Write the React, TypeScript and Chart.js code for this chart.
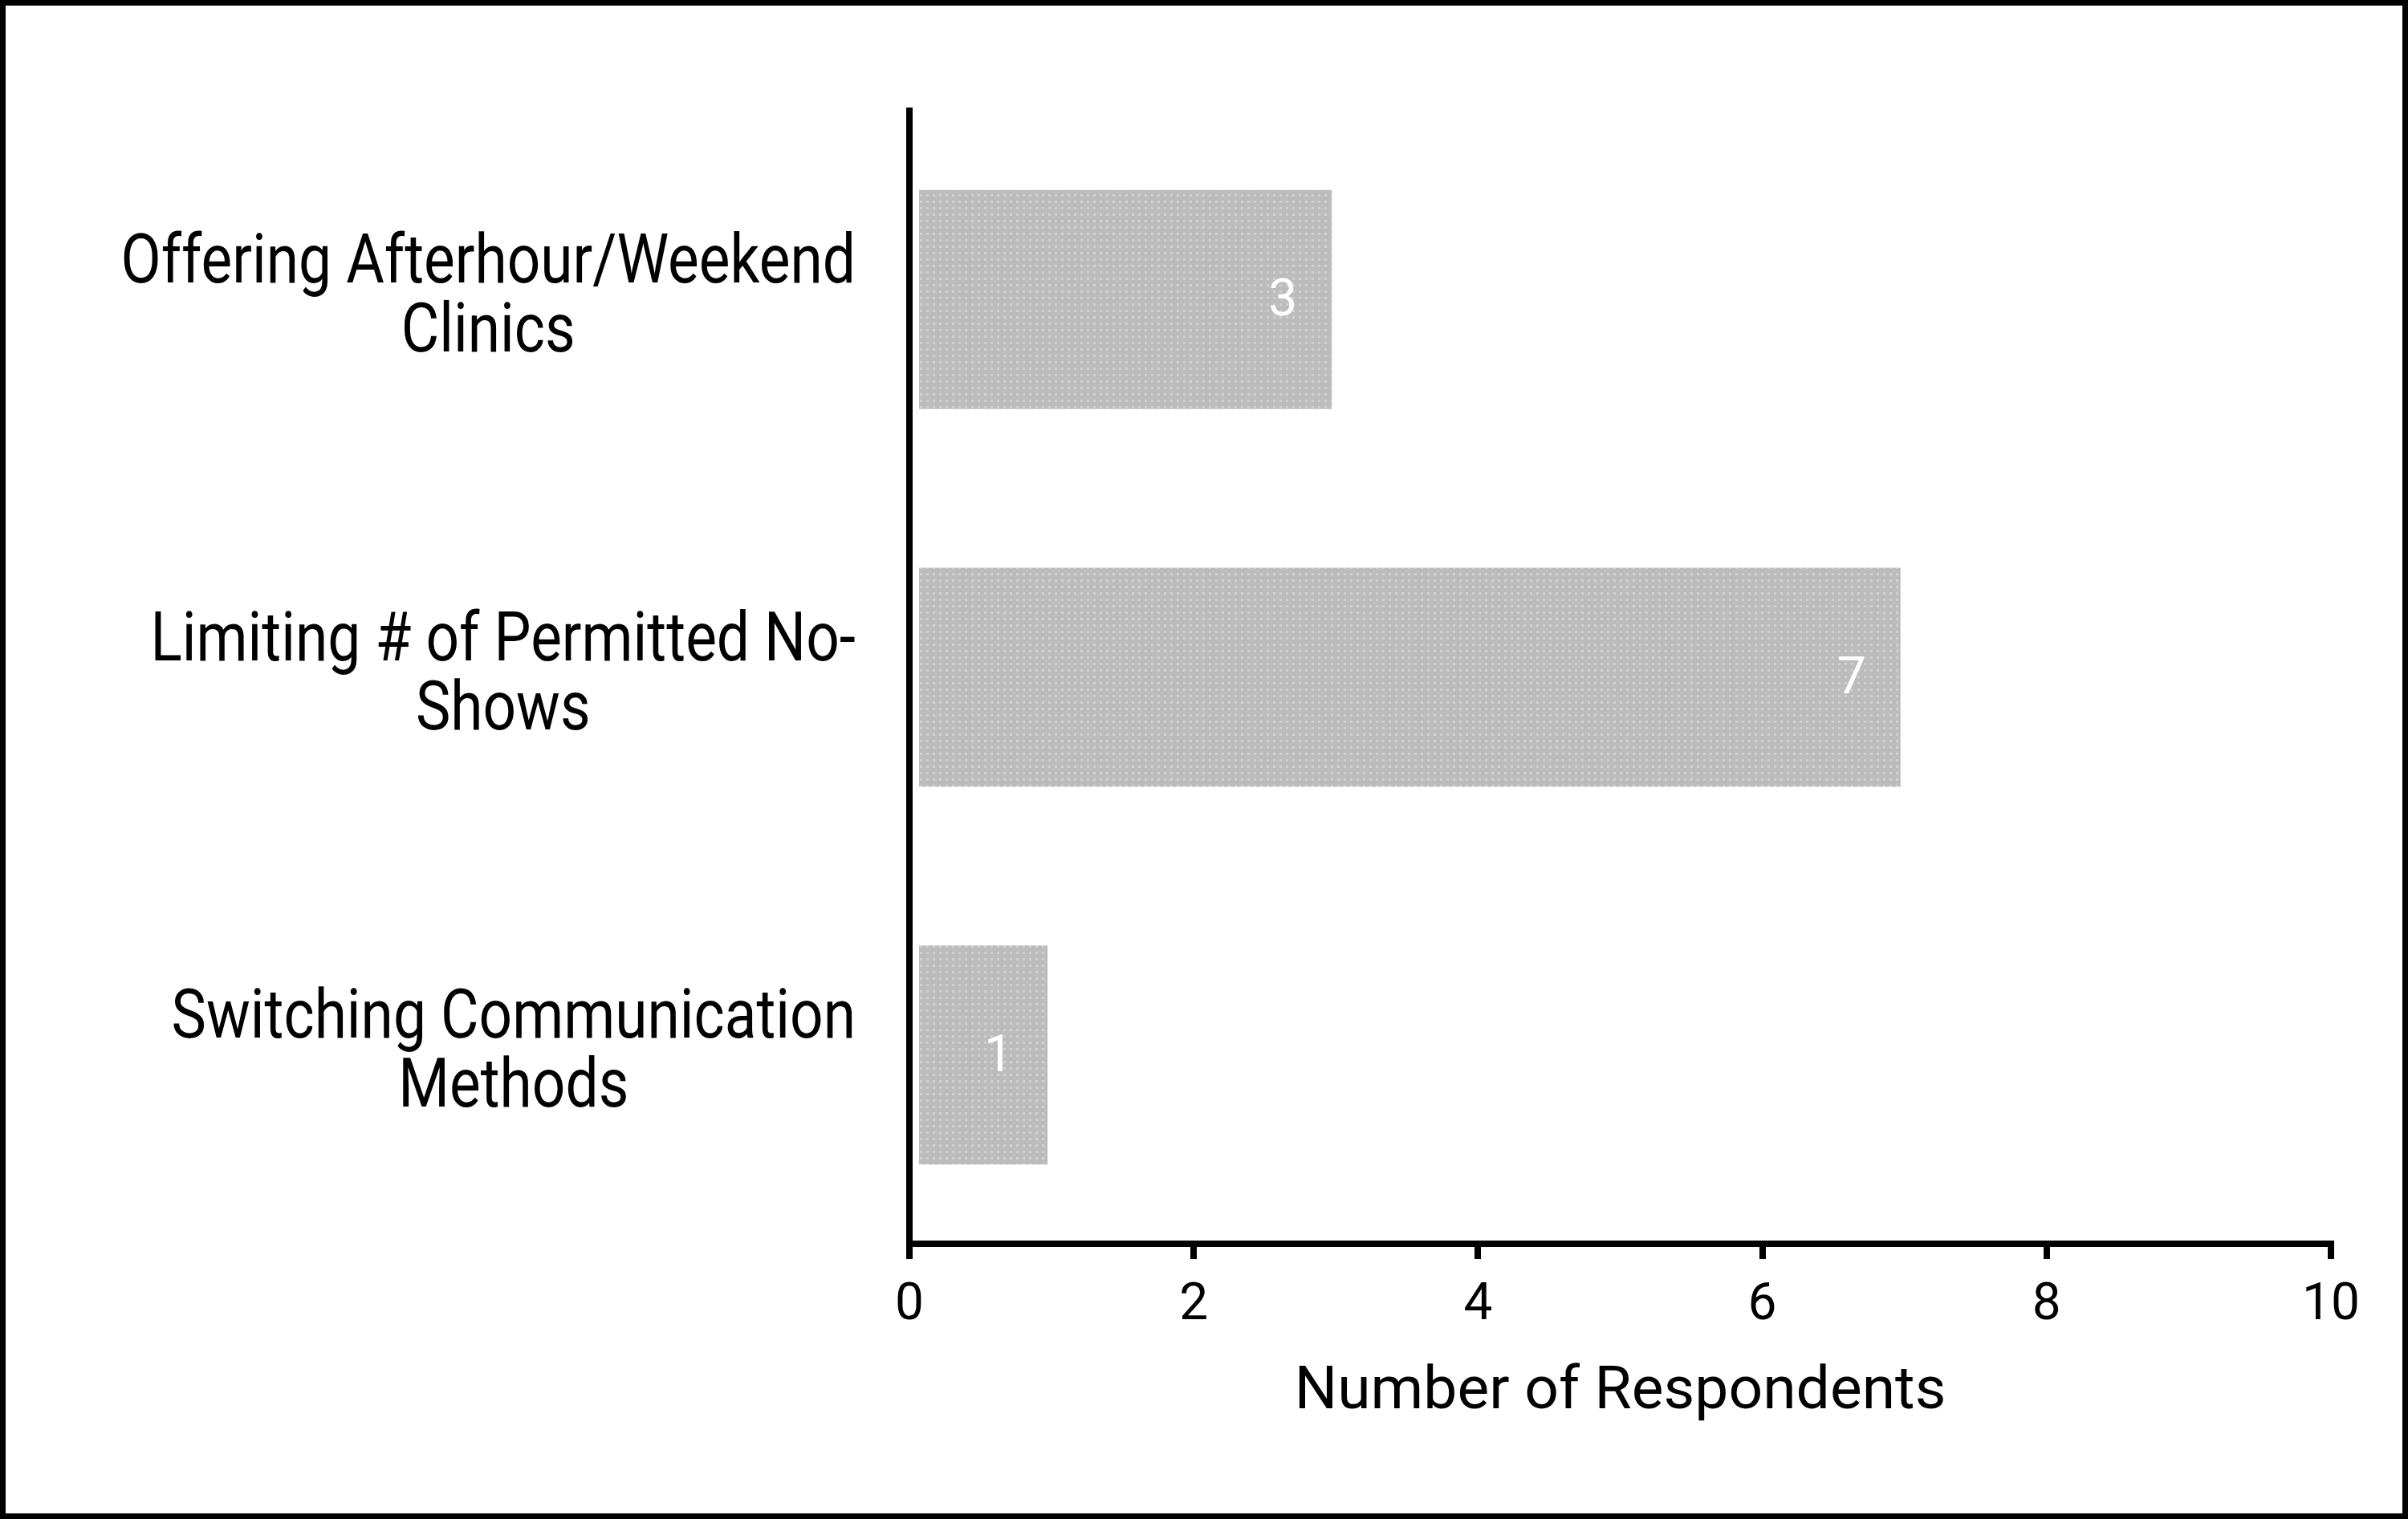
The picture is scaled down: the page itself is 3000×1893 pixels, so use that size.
import React, { useEffect, useRef } from 'react';
import { Chart, registerables } from 'chart.js';

Chart.register(...registerables);

const categories: string[][] = [
  ['Offering Afterhour/Weekend', 'Clinics'],
  ['Limiting # of Permitted No-', 'Shows'],
  ['Switching Communication', 'Methods'],
];
const respondents: number[] = [3, 7, 1];
const xTicks: number[] = [0, 2, 4, 6, 8, 10];
const xTitle = 'Number of Respondents';

const W = 3000;
const H = 1893;

const labelPlugin = {
  id: 'customLabels',
  afterDraw(chart: any) {
    const ctx = chart.ctx as CanvasRenderingContext2D;
    const yScale = chart.scales.y;
    const right = chart.chartArea.left - 67;
    ctx.save();
    ctx.fillStyle = '#000';
    ctx.font = '73px Roboto';
    ctx.textAlign = 'center';
    ctx.textBaseline = 'middle';
    categories.forEach((lines, i) => {
      const cy = yScale.getPixelForValue(i);
      const maxW = Math.max(...lines.map((l) => ctx.measureText(l).width));
      const cx = right - maxW / 2;
      lines.forEach((line, j) => {
        const ly = cy + (j - (lines.length - 1) / 2) * 86;
        ctx.save();
        ctx.translate(cx, ly);
        ctx.scale(1, 1.18);
        ctx.fillText(line, 0, 0);
        ctx.restore();
      });
    });
    const meta = chart.getDatasetMeta(0);
    ctx.fillStyle = '#ffffff';
    ctx.font = '64px Roboto';
    meta.data.forEach((bar: any, i: number) => {
      ctx.fillText(String(respondents[i]), bar.x - 66, bar.y + 4);
    });
    ctx.restore();
  },
};

function makePattern(): CanvasPattern | string {
  const c = document.createElement('canvas');
  c.width = 8;
  c.height = 8;
  const g = c.getContext('2d');
  if (!g) return '#c0c0c0';
  g.fillStyle = '#bcbcbc';
  g.fillRect(0, 0, 8, 8);
  g.fillStyle = '#d0d0d0';
  g.fillRect(2, 2, 3, 3);
  return g.createPattern(c, 'repeat') || '#c0c0c0';
}

export default function App() {
  const ref = useRef<HTMLCanvasElement | null>(null);
  useEffect(() => {
    if (!ref.current) return;
    const chart = new Chart(ref.current, {
      type: 'bar',
      data: {
        labels: categories.map((c) => c.join(' ')),
        datasets: [
          {
            data: respondents,
            backgroundColor: makePattern(),
            borderColor: '#ffffff',
            borderWidth: { left: 8, right: 5, top: 4, bottom: 4 },
            borderSkipped: false,
            barPercentage: 0.597,
            categoryPercentage: 1,
          },
        ],
      },
      options: {
        indexAxis: 'y',
        animation: false,
        responsive: false,
        events: [],
        layout: { padding: { left: 0, top: 138, right: 96, bottom: 0 } },
        plugins: { legend: { display: false }, tooltip: { enabled: false } },
        scales: {
          x: {
            type: 'linear',
            min: 0,
            max: 10,
            z: 1,
            afterBuildTicks: (s: any) => {
              s.ticks = xTicks.map((v) => ({ value: v }));
            },
            ticks: {
              color: '#000',
              font: { family: 'Roboto', size: 64 },
              padding: 21,
            },
            grid: {
              drawOnChartArea: false,
              drawTicks: true,
              tickLength: 19,
              tickWidth: 8,
              tickColor: '#000',
              lineWidth: 8,
              color: '#000',
            },
            border: { display: true, color: '#000', width: 8 },
            title: {
              display: true,
              text: xTitle,
              color: '#000',
              font: { family: 'Roboto', size: 75 },
              padding: { top: 0, bottom: 112 },
            },
            afterFit: (s: any) => {
              s.height = 343;
            },
          },
          y: {
            type: 'category',
            z: 1,
            ticks: { display: false },
            grid: { display: false },
            border: { display: true, color: '#000', width: 8 },
            afterFit: (s: any) => {
              s.width = 1133;
            },
          },
        },
      } as any,
      plugins: [labelPlugin],
    });
    return () => chart.destroy();
  }, []);
  return (
    <div style={{ position: 'absolute', left: 0, top: 0, width: W, height: H, background: '#fff' }}>
      <canvas ref={ref} width={W} height={H} style={{ display: 'block', width: W, height: H }} />
      <div
        style={{
          position: 'absolute',
          left: 0,
          top: 0,
          width: W,
          height: H,
          border: '7px solid #000',
          boxSizing: 'border-box',
          pointerEvents: 'none',
        }}
      />
    </div>
  );
}
